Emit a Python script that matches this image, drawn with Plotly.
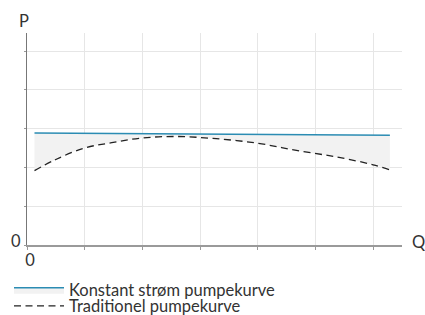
import plotly.graph_objects as go

# Data
trad_q = [0.13, 0.49, 0.99, 1.47, 1.99, 2.57, 3.22, 3.98, 4.67, 5.37, 6.0, 6.29]
trad_p = [1.92, 2.20, 2.50, 2.64, 2.76, 2.80, 2.75, 2.63, 2.44, 2.27, 2.07, 1.94]
const_q = [0.13, 6.29]
const_p = [2.89, 2.83]

x_ticks = [0, 1, 2, 3, 4, 5, 6]
y_ticks = [0, 1, 2, 3, 4, 5]
x_tick_text = ["0", "", "", "", "", "", ""]
y_tick_text = ["0", "", "", "", "", ""]

FONT = "Lato"
TXT = "#333333"
FS = 16.5

fig = go.Figure()
fig.add_trace(go.Scatter(
    x=trad_q, y=trad_p, mode="lines", name="Traditionel pumpekurve",
    line=dict(color="#222222", width=1.3, dash="7px,4.5px", shape="spline"),
    legend="legend2",
))
fig.add_trace(go.Scatter(
    x=const_q, y=const_p, mode="lines", name="Konstant strøm pumpekurve",
    line=dict(color="#2b8cb3", width=1.5),
    fill="tonexty", fillcolor="#f2f2f2",
    legend="legend",
))

leg_common = dict(
    x=-0.048, xanchor="left", yanchor="middle",
    orientation="v", font=dict(family=FONT, size=FS, color=TXT),
    bgcolor="rgba(0,0,0,0)", itemwidth=50, traceorder="normal",
)

fig.update_layout(
    width=425, height=315,
    margin=dict(l=27, r=23, t=33, b=70, autoexpand=False),
    paper_bgcolor="white", plot_bgcolor="white",
    font=dict(family=FONT, size=FS, color=TXT),
    showlegend=True,
    legend=dict(y=-0.212, **leg_common),
    legend2=dict(y=-0.288, **leg_common),
    xaxis=dict(
        range=[0, 6.5], tickvals=x_ticks, ticktext=x_tick_text,
        showgrid=True, gridcolor="#e6e6e6", gridwidth=1,
        showline=True, linecolor="#9a9a9a", linewidth=2,
        ticks="outside", ticklen=3, tickcolor="#9a9a9a",
        zeroline=False, fixedrange=True, automargin=False,
        tickfont=dict(family=FONT, size=FS, color=TXT),
        ticklabelshift=3, ticklabelstandoff=-4,
    ),
    yaxis=dict(
        range=[0, 5.47], tickvals=y_ticks, ticktext=y_tick_text,
        showgrid=True, gridcolor="#e6e6e6", gridwidth=1,
        showline=True, linecolor="#777777", linewidth=1,
        ticks="outside", ticklen=2, tickcolor="#999999",
        zeroline=False, fixedrange=True, automargin=False,
        tickfont=dict(family=FONT, size=FS, color=TXT),
        ticklabelshift=-4,
    ),
    annotations=[
        dict(text="P", xref="paper", yref="paper", x=-0.0067, y=1.0,
             xanchor="center", yanchor="middle", yshift=12.5, showarrow=False,
             font=dict(family=FONT, size=FS, color=TXT)),
        dict(text="Q", xref="paper", yref="paper", x=1.0, y=0.0,
             xanchor="left", yanchor="middle", xshift=8, yshift=3, showarrow=False,
             font=dict(family=FONT, size=FS, color=TXT)),
    ],
)

fig.write_html(
    "out.html",
    config={"displayModeBar": False},
    post_script="document.body.style.margin='0';document.body.style.overflow='hidden';",
)
